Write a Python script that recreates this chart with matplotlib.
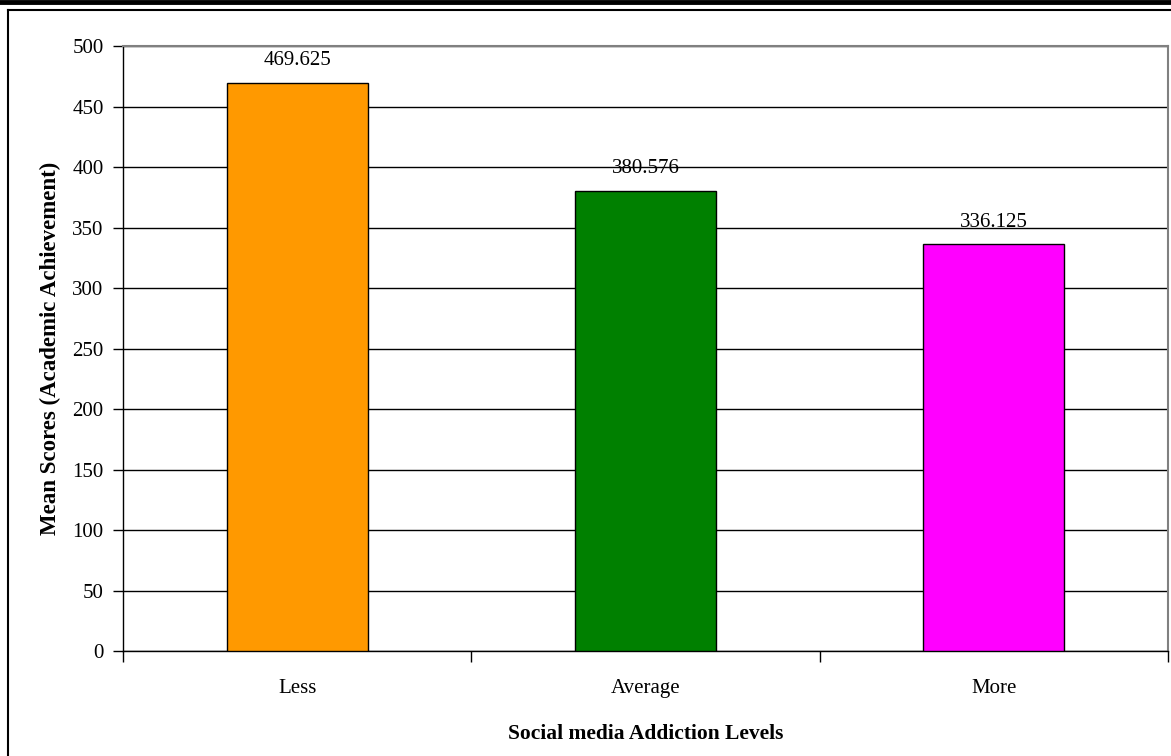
import matplotlib
matplotlib.use("Agg")
import matplotlib.pyplot as plt
from matplotlib.lines import Line2D

categories = ["Less", "Average", "More"]
mean_scores = [469.625, 380.576, 336.125]
bar_colors = ["#FF9900", "#008000", "#FF00FF"]
y_ticks = [0, 50, 100, 150, 200, 250, 300, 350, 400, 450, 500]

plt.rcParams["font.family"] = ["Liberation Serif", "DejaVu Serif"]

W, H = 1171, 756
fig = plt.figure(figsize=(W / 100, H / 100), dpi=100)
ax = fig.add_axes([123 / W, 1 - 651 / H, (1168 - 123) / W, (651 - 46) / H])

x = list(range(len(categories)))
ax.bar(x, mean_scores, width=0.405, color=bar_colors, edgecolor="black",
       linewidth=1, zorder=3)

for xi, v in zip(x, mean_scores):
    ax.annotate(f"{v:g}", (xi, v), xytext=(0, 9), textcoords="offset points",
                ha="center", va="bottom", fontsize=15, zorder=4)

ax.set_xlim(-0.5, len(categories) - 0.5)
ax.set_ylim(0, 500)
ax.set_yticks(y_ticks)
ax.yaxis.grid(True, color="black", linewidth=1, zorder=0)
ax.set_axisbelow(True)

ax.set_xticks(x)
ax.set_xticklabels(categories, fontsize=15)
ax.tick_params(axis="x", length=0, pad=20)
# category boundary ticks on the x axis
ax.set_xticks([i - 0.5 for i in range(len(categories) + 1)], minor=True)
ax.tick_params(axis="x", which="minor", length=8, width=1, direction="out")
ax.tick_params(axis="y", length=7, width=1, direction="out", labelsize=15, pad=7)

for side in ("top", "right"):
    ax.spines[side].set_color("#808080")
    ax.spines[side].set_linewidth(1.5)
for side in ("left", "bottom"):
    ax.spines[side].set_color("black")
    ax.spines[side].set_linewidth(1)

ax.set_ylabel("Mean Scores (Academic Achievement)", fontsize=16.5,
              fontweight="bold", labelpad=8)
ax.set_xlabel("Social media Addiction Levels", fontsize=15.5,
              fontweight="bold", labelpad=19)

# page frame: heavy rule, thin rule and left border
fig.add_artist(Line2D([0, 1], [1 - 1.5 / H, 1 - 1.5 / H], color="black",
                      linewidth=3.5, transform=fig.transFigure))
fig.add_artist(Line2D([8 / W, 1], [1 - 9.5 / H, 1 - 9.5 / H], color="black",
                      linewidth=1.5, transform=fig.transFigure))
fig.add_artist(Line2D([8 / W, 8 / W], [0, 1 - 9.5 / H], color="black",
                      linewidth=1.5, transform=fig.transFigure))

fig.savefig("out.png", dpi=100)
